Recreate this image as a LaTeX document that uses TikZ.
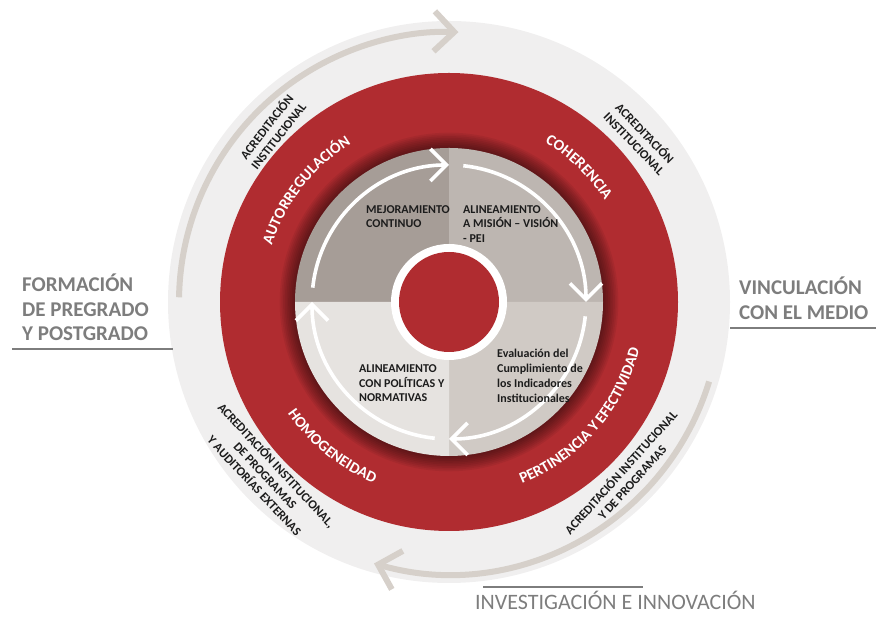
\documentclass[tikz,border=0pt]{standalone}
\usepackage{fontspec}
\setmainfont{Carlito}
\usepackage{tikz}
\usetikzlibrary{
  arrows.meta,
  calc,
  decorations.text
}
\definecolor{ink}{HTML}{1C1C1C}
\definecolor{labelgray}{HTML}{7D7D7D}
\definecolor{disc}{HTML}{F0EFEF}
\definecolor{ringred}{HTML}{B02C30}
\definecolor{beige}{HTML}{D6D0CA}
\definecolor{qtl}{HTML}{A69D97}
\definecolor{qtr}{HTML}{BDB6B1}
\definecolor{qbr}{HTML}{D0CAC5}
\definecolor{qbl}{HTML}{E6E3E0}
\newcommand{\ringfont}{\fontsize{15.5}{15.5}\selectfont\bfseries\color{white}}
\tikzset{
  >=Latex,
  every picture/.style={line cap=round, line join=round},
  biglabel/.style={font=\fontsize{21}{25}\selectfont\bfseries, text=labelgray, inner sep=0pt, anchor=base west},
  botlabel/.style={font=\fontsize{22}{25}\selectfont, text=labelgray, inner sep=0pt, anchor=base west},
  rule/.style={draw=labelgray, line width=1.3pt, line cap=butt},
  quad/.style={font=\fontsize{12}{14}\selectfont\bfseries, text=ink, inner sep=0pt, anchor=base west},
  accred/.style={font=\fontsize{12.5}{15}\selectfont\bfseries, text=ink, inner sep=0pt, align=center},
  outarrow/.style={draw=beige, line width=6pt, line cap=butt, -{Straight Barb[length=20pt, width=40pt]}},
  cycarrow/.style={draw=white, line width=3.6pt, line cap=butt, -{Straight Barb[length=16pt, width=32pt]}},
  ringlabel/.style={decorate, decoration={text along path, text align=center, text={|\ringfont|#1}}}
}

\begin{document}
\begin{tikzpicture}[x=1pt, y=1pt]
  \useasboundingbox (0,0) rectangle (876,617);
  \coordinate (ctr) at (449,315);

  % Discs
  \fill[disc] (ctr) circle (281);
  \fill[ringred] (ctr) circle (229);
  \foreach \r in {0,...,9}
    \fill[black, opacity=0.06] (ctr) circle (154+1.7*\r);
  \fill[qtl] (ctr) -- ++(180:154) arc[start angle=180, end angle=90, radius=154] -- cycle;
  \fill[qtr] (ctr) -- ++(90:154) arc[start angle=90, end angle=0, radius=154] -- cycle;
  \fill[qbr] (ctr) -- ++(0:154) arc[start angle=0, end angle=-90, radius=154] -- cycle;
  \fill[qbl] (ctr) -- ++(-90:154) arc[start angle=-90, end angle=-180, radius=154] -- cycle;
  \fill[white] (ctr) circle (58);
  \fill[ringred] (ctr) circle (50);

  % Cycle arrows
  \foreach \a in {90,0,-90,-180}
    \draw[cycarrow] ($(ctr)+(\a+84:137)$) arc[start angle=\a+84, end angle=\a, radius=137];

  % Outer arrows
  \draw[outarrow] ($(ctr)+(179:270)$) arc[start angle=179, end angle=88, radius=270];
  \draw[outarrow] ($(ctr)+(-17:272)$) arc[start angle=-17, end angle=-106, radius=272];

  % Ring labels
  \path[ringlabel=AUTORREGULACIÓN] ($(ctr)+(192:186)$) arc[start angle=192, end angle=92, radius=186];
  \path[ringlabel=COHERENCIA] ($(ctr)+(96:186)$) arc[start angle=96, end angle=-4, radius=186];
  \path[ringlabel=PERTINENCIA Y EFECTIVIDAD] ($(ctr)+(-96:196)$) arc[start angle=-96, end angle=14, radius=196];
  \path[ringlabel=HOMOGENEIDAD] ($(ctr)+(-179:196)$) arc[start angle=-179, end angle=-79, radius=196];

  % Quadrant texts
  \node[quad] (mej1) at (366,403) {MEJORAMIENTO};
  \node[quad] (mej2) at (366,389) {CONTINUO};
  \node[quad] (mis1) at (463,403) {ALINEAMIENTO};
  \node[quad] (mis2) at (463,389) {A MISIÓN – VISIÓN};
  \node[quad] (mis3) at (463,374) {- PEI};
  \node[quad] (eva1) at (497,259) {Evaluación del};
  \node[quad] (eva2) at (497,244) {Cumplimiento de};
  \node[quad] (eva3) at (497,229) {los Indicadores};
  \node[quad] (eva4) at (497,214) {Institucionales};
  \node[quad] (pol1) at (359,244) {ALINEAMIENTO};
  \node[quad] (pol2) at (359,229) {CON POLÍTICAS Y};
  \node[quad] (pol3) at (359,215) {NORMATIVAS};

  % Accreditation texts
  \node[accred, rotate=52] (acTL) at (272,486) {ACREDITACIÓN\\INSTITUCIONAL};
  \node[accred, rotate=-46] (acTR) at (640,479) {ACREDITACIÓN\\INSTITUCIONAL};
  \node[accred, rotate=-47] (acBL) at (266,142) {ACREDITACIÓN INSTITUCIONAL,\\DE PROGRAMAS\\Y AUDITORÍAS EXTERNAS};
  \node[accred, rotate=48] (acBR) at (626,140) {ACREDITACIÓN INSTITUCIONAL\\Y DE PROGRAMAS};

  % Side labels
  \node[biglabel] (form1) at (22,325) {FORMACIÓN};
  \node[biglabel] (form2) at (22,300) {DE PREGRADO};
  \node[biglabel] (form3) at (22,276) {Y POSTGRADO};
  \draw[rule] (12,268) -- (173,268);
  \node[biglabel] (vinc1) at (739,322) {VINCULACIÓN};
  \node[biglabel] (vinc2) at (739,297) {CON EL MEDIO};
  \draw[rule] (730,289) -- (876,289);
  \node[botlabel] (inv) at (475,7) {INVESTIGACIÓN E INNOVACIÓN};
  \draw[rule] (483,30) -- (643,30);
\end{tikzpicture}
\end{document}
